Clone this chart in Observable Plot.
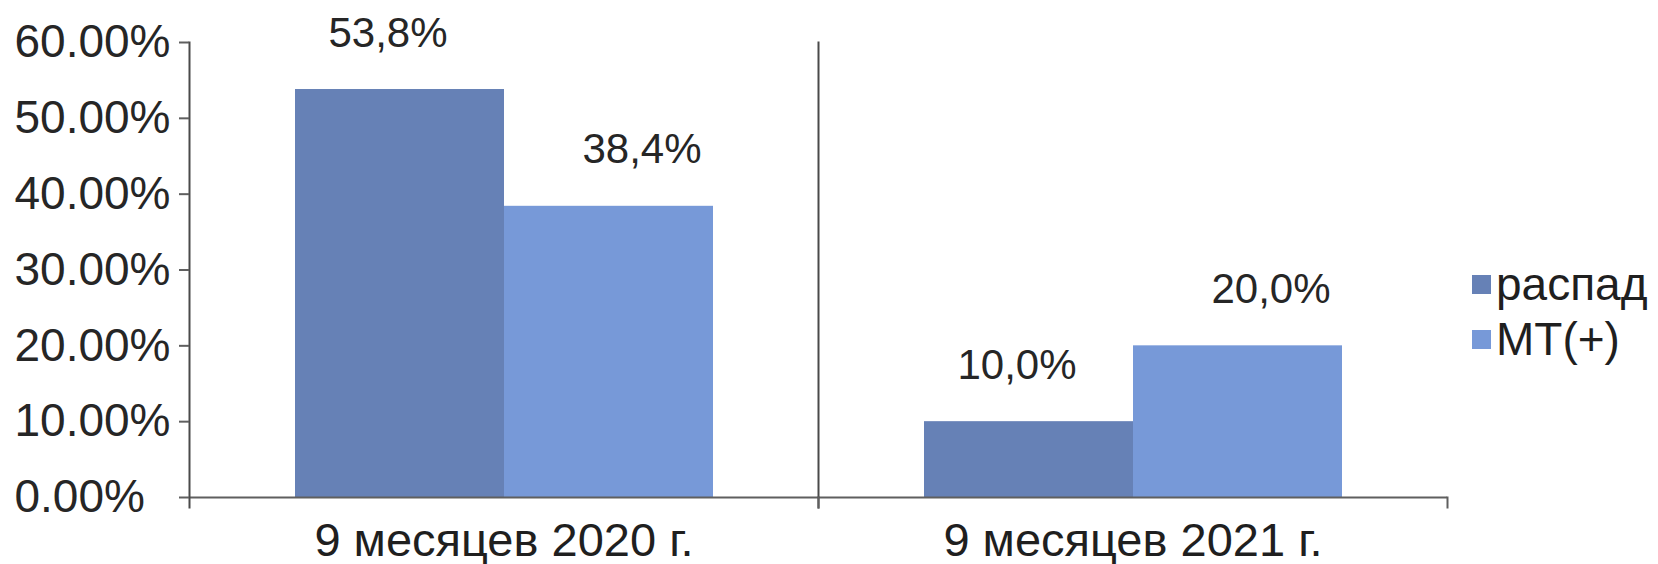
<!DOCTYPE html>
<html><head><meta charset="utf-8">
<script src="https://cdn.jsdelivr.net/npm/d3@7"></script>
<script src="https://cdn.jsdelivr.net/npm/@observablehq/plot@0.6"></script>
<style>
body{margin:0;background:#fff;font-family:"Liberation Sans",Arial,sans-serif;}
#wrap{position:relative;width:1658px;height:564px;background:#fff;}
.legend{position:absolute;left:1472px;top:257px;font-size:46px;color:#1f1f1f;line-height:55px;}
.legend .row{display:flex;align-items:center;height:55px;}
.legend .sw{width:19px;height:19px;margin-right:5px;flex:none;}
</style></head><body>
<div id="wrap"></div>
<script>
const categories = ["9 месяцев 2020 г.", "9 месяцев 2021 г."];
const seriesNames = ["распад", "МТ(+)"];
const valuesRaspad = [0.538, 0.100];
const valuesMT = [0.384, 0.200];
const labelsRaspad = ["53,8%", "10,0%"];
const labelsMT = ["38,4%", "20,0%"];
const yTicks = [0, 0.1, 0.2, 0.3, 0.4, 0.5, 0.6];
const colors = ["#6681b6", "#7799d8"];

const data = [];
categories.forEach((c, i) => {
  data.push({cat: c, series: seriesNames[0], value: valuesRaspad[i], label: labelsRaspad[i]});
  data.push({cat: c, series: seriesNames[1], value: valuesMT[i], label: labelsMT[i]});
});

const font = '"Liberation Sans", Arial, sans-serif';
const chart = Plot.plot({
  width: 1658, height: 564,
  marginLeft: 188, marginRight: 211, marginTop: 42, marginBottom: 67,
  style: {fontFamily: font, fontSize: "46px", color: "#1f1f1f", background: "#fff", overflow: "visible"},
  fx: {domain: categories, paddingInner: 0, paddingOuter: 0, label: null, axis: null},
  x: {domain: seriesNames, paddingInner: 0, paddingOuter: 0.504, axis: null},
  y: {domain: [0, 0.6], axis: null},
  color: {domain: seriesNames, range: colors},
  marks: [
    Plot.barY(data, {fx: "cat", x: "series", y: "value", fill: "series"}),
    Plot.ruleY([0], {stroke: "#5f5f5f", strokeWidth: 2}),
    Plot.frame({anchor: "left", stroke: "#4a4a4a", strokeWidth: 2, insetBottom: -10}),
    Plot.frame({anchor: "right", stroke: "#5f5f5f", strokeWidth: 2, insetTop: 455, insetBottom: -10}),
    Plot.axisY({ticks: yTicks, tickSize: 10, text: null, stroke: "#5f5f5f", strokeWidth: 2, label: null}),
    Plot.axisY({ticks: yTicks, tickFormat: ".2%", tickSize: 0, tickPadding: 13, textAnchor: "start", dx: -162,
      fontSize: 46, fill: "#262626", label: null}),
    Plot.axisFx({anchor: "bottom", tickSize: 0, tickPadding: 25, fontSize: 47, fill: "#1f1f1f", label: null}),
    Plot.text(data.filter(d => d.series === seriesNames[0]), {fx: "cat", x: "series", y: "value", text: "label",
      lineAnchor: "bottom", dy: -43, dx: -12, fontSize: 42, fill: "#262626"}),
    Plot.text(data.filter(d => d.series === seriesNames[1]), {fx: "cat", x: "series", y: "value", text: "label",
      lineAnchor: "bottom", dy: -43, dx: 33, fontSize: 42, fill: "#262626"})
  ]
});
const wrap = document.getElementById("wrap");
wrap.appendChild(chart);

const legend = document.createElement("div");
legend.className = "legend";
seriesNames.forEach((s, i) => {
  const row = document.createElement("div");
  row.className = "row";
  const sw = document.createElement("span");
  sw.className = "sw";
  sw.style.background = colors[i];
  const t = document.createElement("span");
  t.textContent = s;
  row.appendChild(sw); row.appendChild(t);
  legend.appendChild(row);
});
wrap.appendChild(legend);
</script>
</body></html>
